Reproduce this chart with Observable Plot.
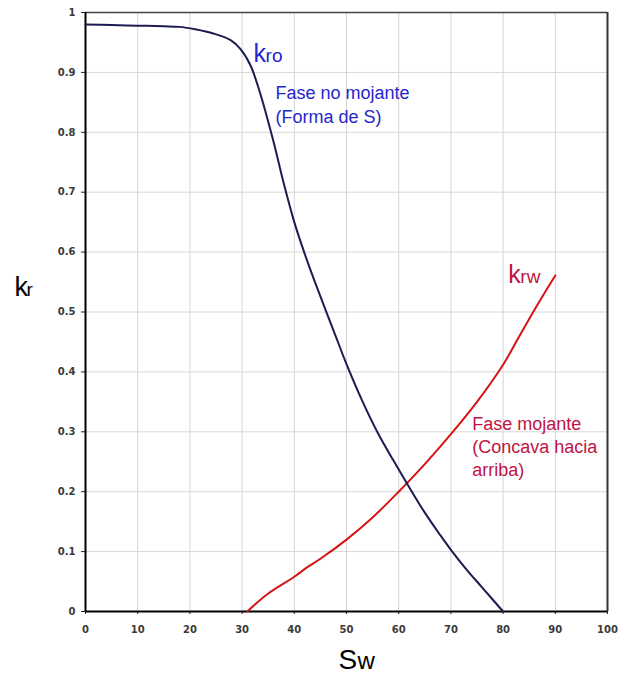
<!DOCTYPE html>
<html>
<head>
<meta charset="utf-8">
<script src="https://cdn.jsdelivr.net/npm/d3@7"></script>
<script src="https://cdn.jsdelivr.net/npm/@observablehq/plot@0.6"></script>
<style>
  html, body { margin: 0; padding: 0; background: #fff; }
  #chart svg { display: block; }
</style>
</head>
<body>
<div id="chart"></div>
<script>
// Oil (non-wetting) relative permeability kro vs Sw
const swO = [0, 5, 10, 15, 18, 21, 24.5, 27.8, 29.7, 31.6, 33.5, 36, 38, 40, 42, 44, 46, 48, 50, 53, 56, 59, 61.5, 65, 68, 70, 73, 76, 80];
const kro = [0.980, 0.979, 0.978, 0.977, 0.976, 0.972, 0.965, 0.954, 0.939, 0.912, 0.864, 0.785, 0.714, 0.650, 0.597, 0.549, 0.503, 0.458, 0.413, 0.352, 0.298, 0.252, 0.215, 0.165, 0.127, 0.103, 0.070, 0.040, 0.0];
// Water (wetting) relative permeability krw vs Sw
const swW = [31, 35, 40, 42.5, 45, 50, 55, 60, 65, 70, 75, 80, 83, 86.5, 90];
const krw = [0.0, 0.030, 0.058, 0.074, 0.088, 0.120, 0.157, 0.200, 0.246, 0.296, 0.350, 0.412, 0.458, 0.511, 0.561];

const xTicks = [0, 10, 20, 30, 40, 50, 60, 70, 80, 90, 100];
const yTicks = [0, 0.1, 0.2, 0.3, 0.4, 0.5, 0.6, 0.7, 0.8, 0.9, 1];

const kroLabel = ["k", "ro"];
const krwLabel = ["k", "rw"];
const noteO = ["Fase no mojante\n(Forma de S)"];
const noteW = ["Fase mojante\n(Concava hacia\narriba)"];
const yLabel = ["k", "r"];
const xLabel = ["S", "w"];

const oData = swO.map((s, i) => ({sw: s, kr: kro[i]}));
const wData = swW.map((s, i) => ({sw: s, kr: krw[i]}));

const blue = "#2626cc";
const red = "#c01442";
const tickStyle = {fontSize: 10, fontWeight: "bold", fill: "#3a3a3a", fontFamily: "'DejaVu Sans', sans-serif"};

const chart = Plot.plot({
  width: 619,
  height: 673,
  marginLeft: 85,
  marginRight: 12,
  marginTop: 12,
  marginBottom: 62,
  style: {fontFamily: "'Liberation Sans', Arial, sans-serif", background: "#fff", overflow: "visible"},
  x: {domain: [0, 100]},
  y: {domain: [0, 1]},
  marks: [
    Plot.gridX(xTicks, {stroke: "#d6d6d6", strokeOpacity: 1, strokeWidth: 1}),
    Plot.gridY(yTicks, {stroke: "#d6d6d6", strokeOpacity: 1, strokeWidth: 1}),
    Plot.axisX(xTicks, {tickSize: 3, tickPadding: 11, tickFormat: d => String(d), label: null, stroke: "#222", ...tickStyle}),
    Plot.axisY(yTicks, {tickSize: 4, tickPadding: 6, tickFormat: d => String(d), label: null, stroke: "#222", ...tickStyle}),
    Plot.ruleY([1], {stroke: "#444", strokeWidth: 1.5}),
    Plot.ruleX([100], {stroke: "#333", strokeWidth: 2}),
    Plot.ruleX([0], {stroke: "#000", strokeWidth: 2}),
    Plot.ruleY([0], {stroke: "#000", strokeWidth: 2}),
    Plot.line(wData, {x: "sw", y: "kr", stroke: "#d41414", strokeWidth: 2, curve: "catmull-rom"}),
    Plot.line(oData, {x: "sw", y: "kr", stroke: "#1c1c52", strokeWidth: 2, curve: "catmull-rom"}),
    // curve labels
    Plot.text([kroLabel[0]], {x: 32.2, y: 0.918, text: d => d, fontSize: 25, fill: blue, textAnchor: "start", lineAnchor: "bottom"}),
    Plot.text([kroLabel[1]], {x: 32.2, y: 0.918, dx: 12, text: d => d, fontSize: 19, fill: blue, textAnchor: "start", lineAnchor: "bottom"}),
    Plot.text(noteO, {x: 36.4, y: 0.883, text: d => d, fontSize: 18, lineHeight: 1.32, fill: blue, textAnchor: "start", lineAnchor: "top"}),
    Plot.text([krwLabel[0]], {x: 81.0, y: 0.548, text: d => d, fontSize: 25, fill: red, textAnchor: "start", lineAnchor: "bottom"}),
    Plot.text([krwLabel[1]], {x: 81.0, y: 0.548, dx: 12, text: d => d, fontSize: 19, fill: red, textAnchor: "start", lineAnchor: "bottom"}),
    Plot.text(noteW, {x: 74.1, y: 0.331, text: d => d, fontSize: 18, lineHeight: 1.28, fill: red, textAnchor: "start", lineAnchor: "top"}),
    // axis labels
    Plot.text([yLabel[0]], {frameAnchor: "left", dx: -71, dy: -16, text: d => d, fontSize: 27, fill: "#000", textAnchor: "start", lineAnchor: "bottom"}),
    Plot.text([yLabel[1]], {frameAnchor: "left", dx: -59, dy: -16, text: d => d, fontSize: 19, fill: "#000", textAnchor: "start", lineAnchor: "bottom"}),
    Plot.text([xLabel[0]], {frameAnchor: "bottom", dx: -8, dy: 57, text: d => d, fontSize: 28, fill: "#000", textAnchor: "start", lineAnchor: "bottom"}),
    Plot.text([xLabel[1]], {frameAnchor: "bottom", dx: 11, dy: 57, text: d => d, fontSize: 24, fill: "#000", textAnchor: "start", lineAnchor: "bottom"})
  ]
});
document.getElementById("chart").appendChild(chart);
</script>
</body>
</html>
